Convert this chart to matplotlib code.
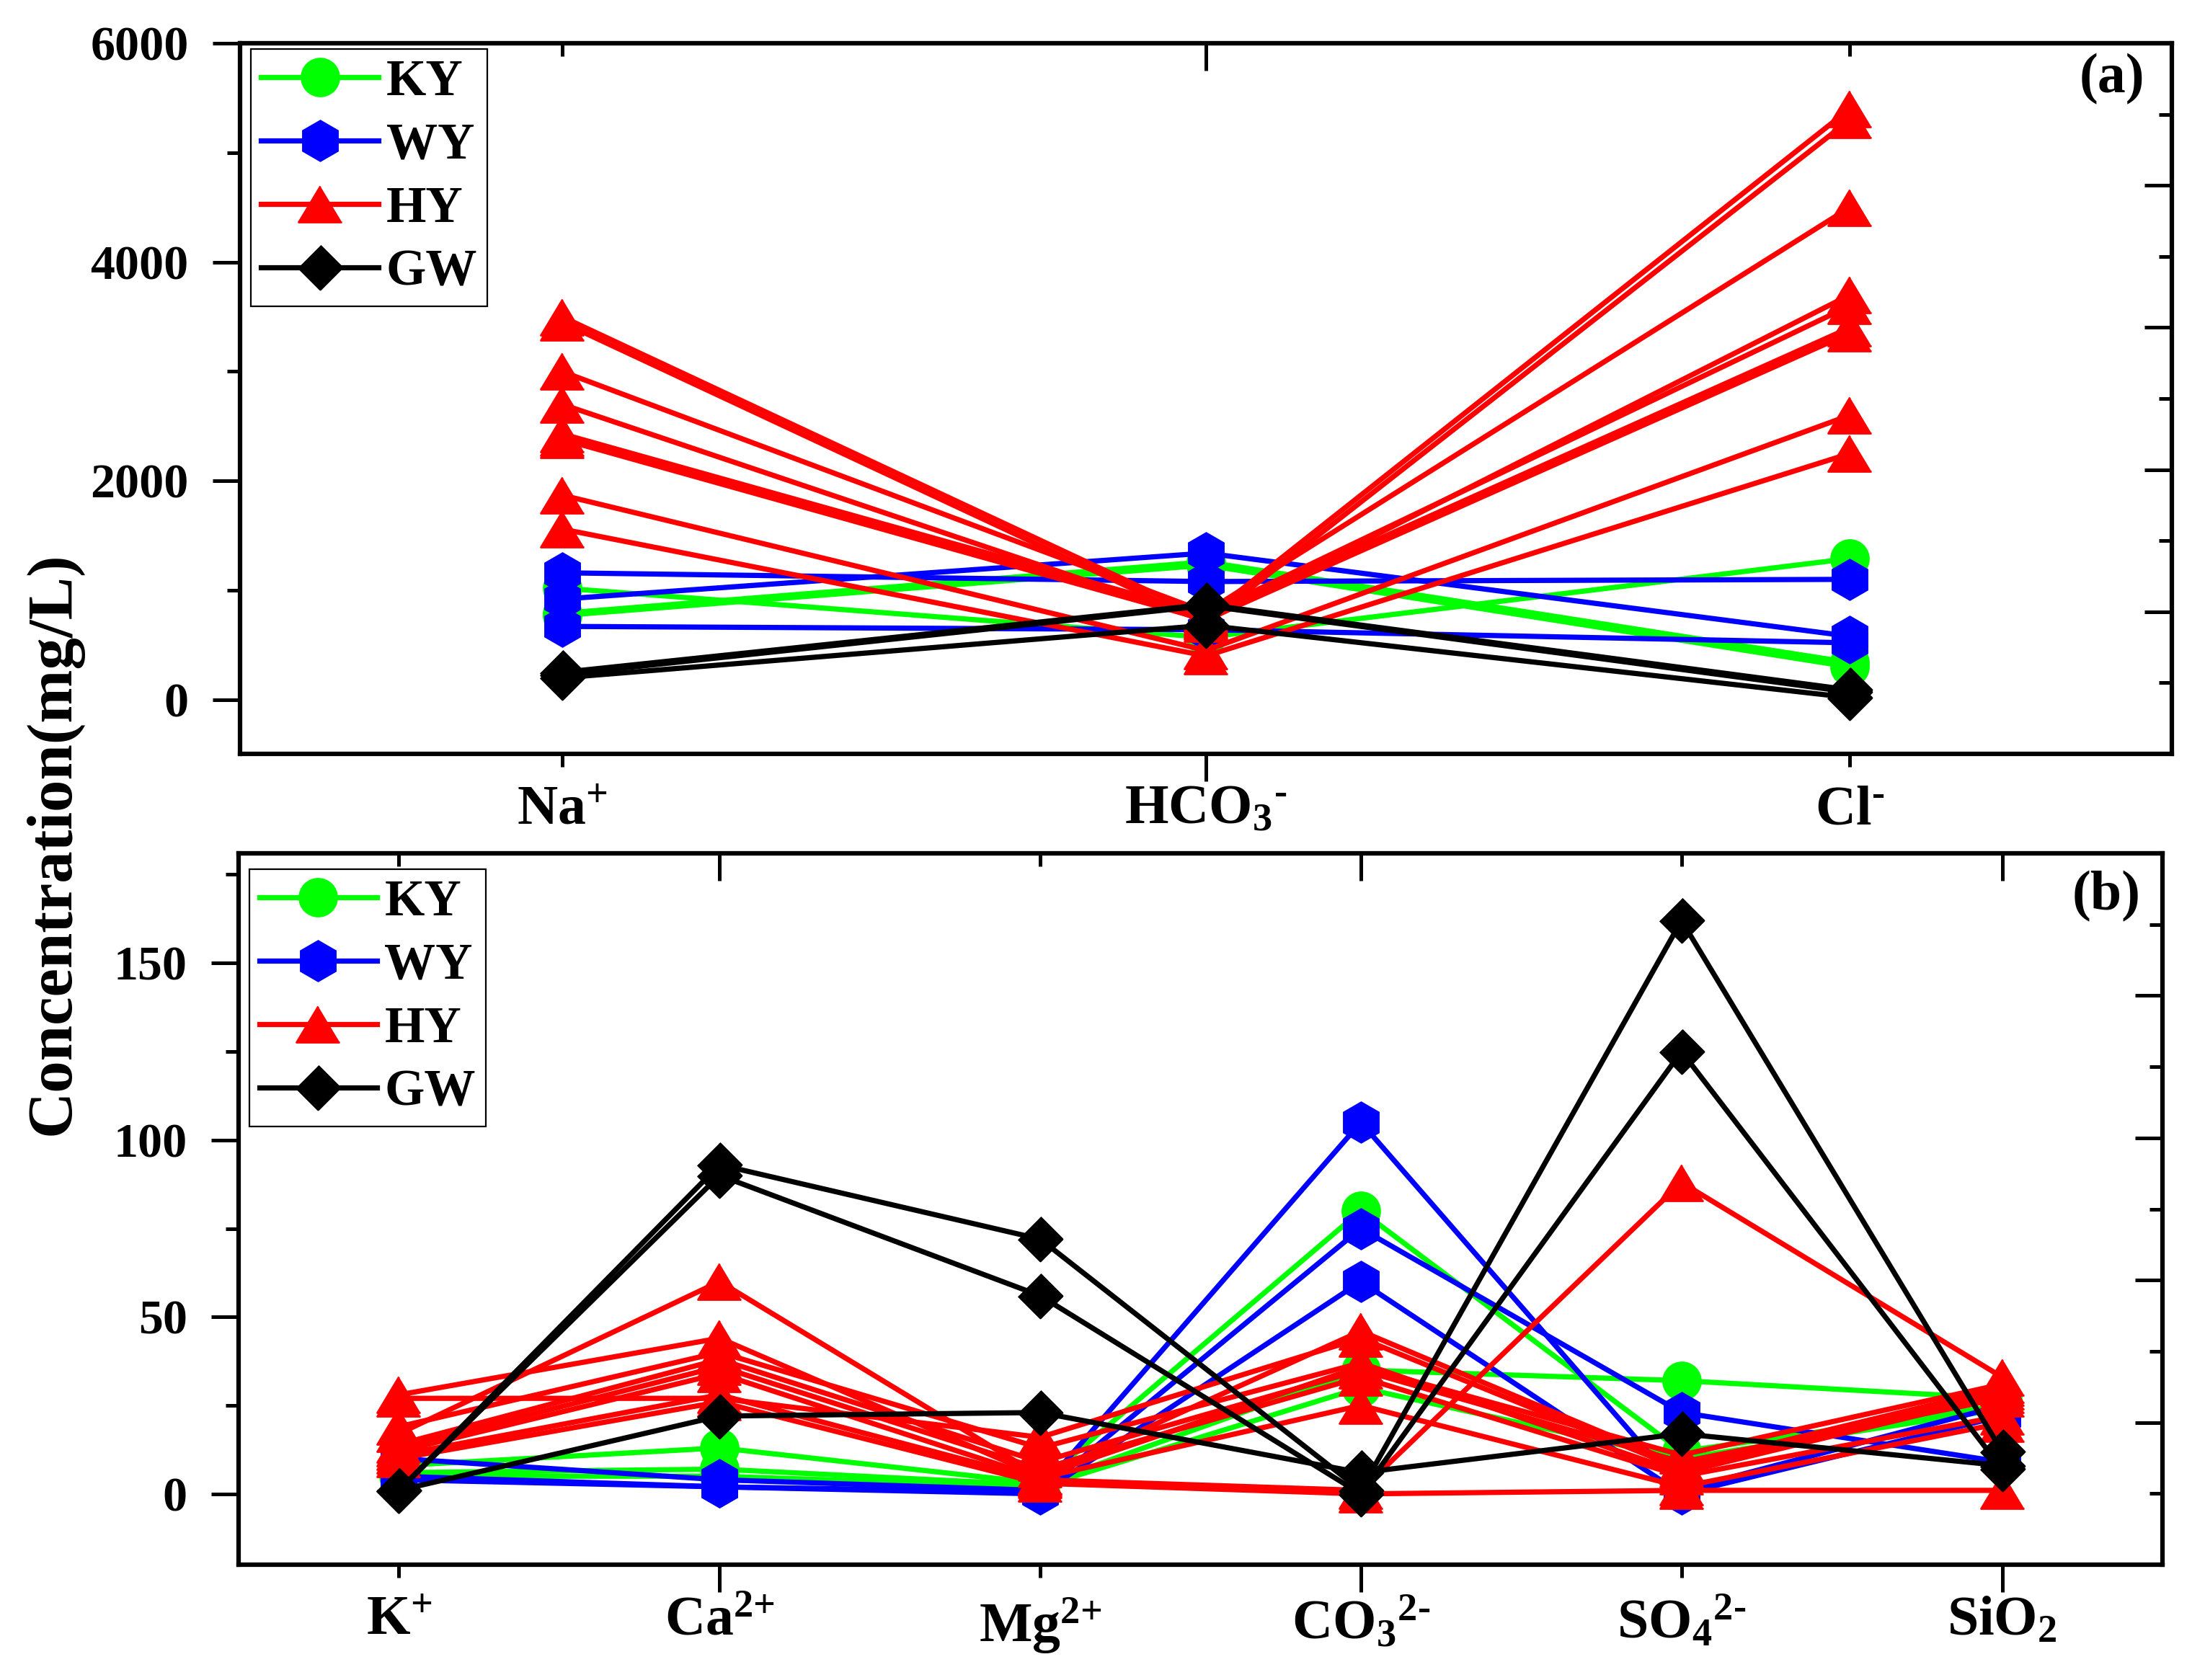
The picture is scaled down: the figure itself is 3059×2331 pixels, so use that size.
import matplotlib
matplotlib.use("Agg")
import matplotlib.pyplot as plt
from matplotlib.lines import Line2D
from matplotlib.ticker import FixedLocator, MultipleLocator

plt.rcParams['font.family'] = ['Liberation Serif', 'DejaVu Serif']
plt.rcParams['font.weight'] = 'bold'
plt.rcParams['mathtext.fontset'] = 'custom'
plt.rcParams['mathtext.rm'] = 'Liberation Serif:bold'
plt.rcParams['mathtext.it'] = 'Liberation Serif:bold'
plt.rcParams['mathtext.bf'] = 'Liberation Serif:bold'

# ---- data (mg/L) ----
ions_a = [r'Na$^{+}$', r'$\mathrm{HCO}_{3}{}^{\text{-}}$', r'Cl$^{\text{-}}$']
ions_b = [r'K$^{+}$', r'Ca$^{2{+}}$', r'Mg$^{2{+}}$', r'$\mathrm{CO}_{3}{}^{2\text{-}}$',
          r'$\mathrm{SO}_{4}{}^{2\text{-}}$', r'SiO$_{2}$']

# panel (a): Na+, HCO3-, Cl-
ky_a = [[1020, 570, 1290], [790, 1260, 340], [770, 1230, 300]]
wy_a = [[1160, 1080, 1100], [920, 1340, 580], [670, 640, 520]]
hy_a = [[3500, 750, 5400], [3450, 700, 5300], [3000, 800, 4500],
        [2700, 720, 3700], [2430, 780, 3600], [2400, 760, 3400],
        [2380, 730, 3350], [1870, 450, 2600], [1560, 400, 2250]]
gw_a = [[250, 870, 90], [230, 860, 70], [200, 680, 20]]

# panel (b): K+, Ca2+, Mg2+, CO3 2-, SO4 2-, SiO2
ky_b = [[8, 13, 3, 80, 12, 25], [6, 7, 2.5, 35, 32, 27], [5, 5, 2, 30, 10, 24]]
wy_b = [[10, 4, 1, 105, 1, 25], [5, 2, 0.5, 75, 23, 9], [4, 2, 0, 60, 0, 22]]
hy_b = [[28, 44, 5, 46, 8, 30], [27, 27, 16, 44, 7, 29], [19, 40, 13, 37, 6, 28],
        [17, 60, 5, 36, 11, 31], [14, 38, 9, 35, 9, 27], [13, 36, 7, 33, 5, 22],
        [12, 34, 4.5, 25, 2, 20], [11, 28, 4, 1, 88, 33], [10, 26, 3, 0, 1, 1]]
gw_b = [[1, 93, 72, 1, 162, 12], [1, 90, 56, 0, 125, 7], [1, 22, 23, 6, 17, 8]]

names = ['KY', 'WY', 'HY', 'GW']
colors = ['#00ff00', '#0000ff', '#ff0000', '#000000']
tri = [(0, 0.833), (-1, -0.833), (1, -0.833)]
dia = [(0, 1), (1, 0), (0, -1), (-1, 0)]
markers = ['o', 'h', tri, dia]
msizes = [18.7, 20, 21.6, 22]
LW = 2.6

fig = plt.figure(figsize=(3059 / 200, 2331 / 200), dpi=200)
ax_a = fig.add_axes([0.10886, 0.55127, 0.8761, 0.42299])
ax_b = fig.add_axes([0.10821, 0.06864, 0.8725, 0.42342])


def style(ax, labels, ylim, major, minor, tag, tagpos, legpos):
    n = len(labels)
    odd = list(range(1, n, 2))
    ax.set_xlim(-0.5, n - 0.5)
    ax.set_ylim(*ylim)
    ax.set_xticks(range(n), labels, fontsize=28)
    ax.xaxis.remove_overlapping_locs = False
    ax.xaxis.set_minor_locator(FixedLocator(odd))
    ax.yaxis.set_major_locator(MultipleLocator(major))
    ax.yaxis.set_minor_locator(MultipleLocator(minor))
    ax.tick_params(axis='x', which='major', direction='out', length=6.5, width=1.8,
                   pad=9, top=False)
    ax.tick_params(axis='x', which='minor', direction='out', length=13.7, width=1.8,
                   top=False)
    ax.tick_params(axis='y', which='major', direction='out', length=13.7, width=1.8,
                   pad=12, labelsize=24.5, right=False)
    ax.tick_params(axis='y', which='minor', direction='out', length=6.5, width=1.8,
                   right=False)
    for s in ax.spines.values():
        s.set_linewidth(2.2)

    top = ax.secondary_xaxis('top')
    top.set_xticks(range(n))
    top.set_xticklabels([''] * n)
    top.xaxis.remove_overlapping_locs = False
    top.xaxis.set_minor_locator(FixedLocator(odd))
    top.tick_params(which='major', direction='in', length=6.5, width=1.8)
    top.tick_params(which='minor', direction='in', length=13.7, width=1.8)
    top.spines['top'].set_linewidth(2.2)

    right = ax.twinx()
    right.set_ylim(0, 1)
    right.set_yticks([0.2, 0.4, 0.6, 0.8])
    right.set_yticks([0.1, 0.3, 0.5, 0.7, 0.9], minor=True)
    right.set_yticklabels([])
    right.tick_params(which='major', direction='in', length=13.7, width=1.8)
    right.tick_params(which='minor', direction='in', length=6.5, width=1.8)
    for s in right.spines.values():
        s.set_linewidth(2.2)

    ax.text(tagpos[0], tagpos[1], tag, transform=ax.transAxes, fontsize=28,
            fontweight='bold', ha='center', va='center')

    handles = [Line2D([], [], color=c, lw=LW, marker=m, ms=s, mec=c, mfc=c)
               for c, m, s in zip(colors, markers, msizes)]
    leg = ax.legend(handles, names, loc='upper left', bbox_to_anchor=legpos,
                    borderaxespad=0, fontsize=25.6, handlelength=2.29,
                    handletextpad=0.15, borderpad=0.2, labelspacing=0.32,
                    fancybox=False, framealpha=1, edgecolor='black', numpoints=1)
    leg.get_frame().set_linewidth(0.8)
    leg.set_zorder(10)


def draw(ax, groups):
    for rows, c, m, s in zip(groups, colors, markers, msizes):
        for r in rows:
            ax.plot(range(len(r)), r, color=c, lw=LW, marker=m, ms=s,
                    mec=c, mfc=c, clip_on=False)


draw(ax_a, [ky_a, wy_a, hy_a, gw_a])
draw(ax_b, [ky_b, wy_b, hy_b, gw_b])

style(ax_a, ions_a, (-495, 6000), 2000, 1000, '(a)', (0.969, 0.950), (0.0056, 0.9919))
style(ax_b, ions_b, (-20, 181), 50, 25, '(b)', (0.971, 0.940), (0.0055, 0.9777))

fig.text(0.0242, 0.498, 'Concentration(mg/L)', rotation=90, fontsize=32,
         fontweight='bold', ha='center', va='center')

fig.savefig('out.png', dpi=200)
